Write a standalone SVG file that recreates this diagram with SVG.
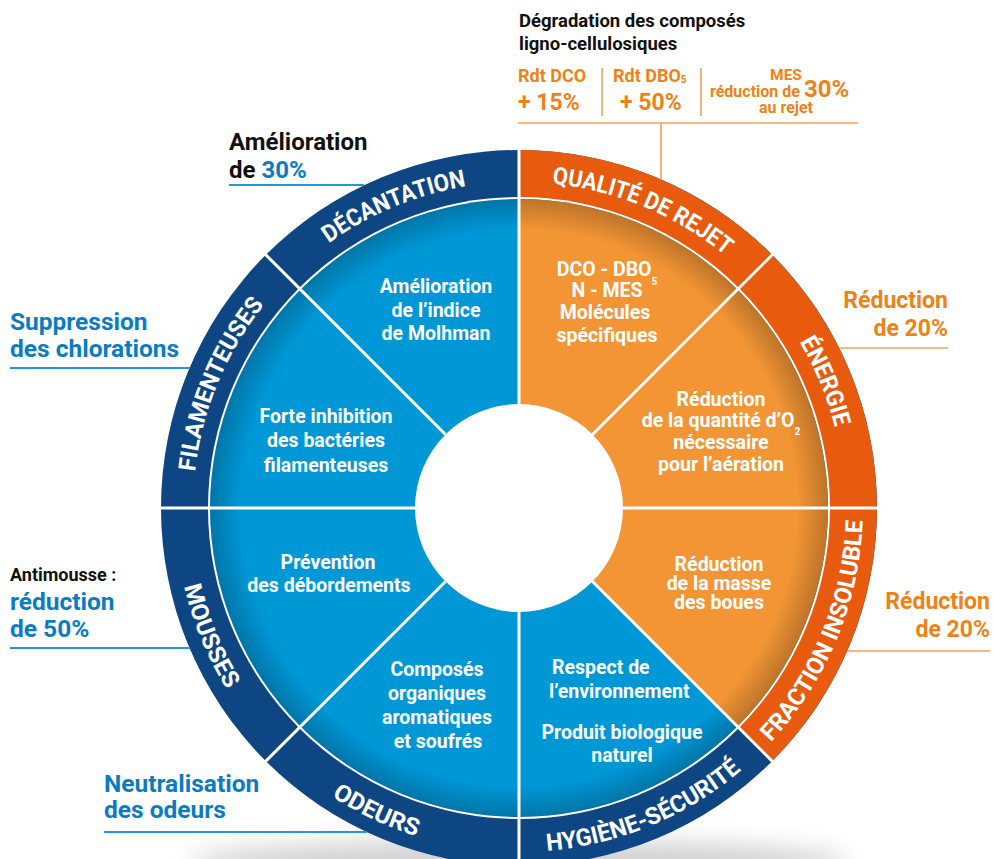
<svg xmlns="http://www.w3.org/2000/svg" width="993" height="859" viewBox="0 0 993 859">
<style>
text{font-family:Roboto,"Liberation Sans",Arial,sans-serif;font-weight:700}
.in{fill:#fff;font-size:19.5px;text-anchor:middle}
.ins{fill:#fff;font-size:19.5px;text-anchor:start}
.ring{fill:#fff;font-size:24px}
.blk{fill:#111;}
.blu{fill:#0b7cc2;font-size:24.5px}
.org{fill:#ef8217}
.bl-line{stroke:#1e9bd7;stroke-width:2;fill:none}
.or-line{stroke:#f2a35a;stroke-width:1.6;fill:none}
.sep{stroke:#fff;stroke-width:3}
</style>
<defs>
<radialGradient id="edge" cx="519" cy="508" r="309" gradientUnits="userSpaceOnUse">
<stop offset="0.9" stop-color="#000" stop-opacity="0"/>
<stop offset="1" stop-color="#000" stop-opacity="0.22"/>
</radialGradient>
<filter id="blur" x="-20%" y="-100%" width="140%" height="300%"><feGaussianBlur stdDeviation="12"/></filter>
<path id="p-dec" d="M288.5 277.5 A326 326 0 0 1 519 182"/>
<path id="p-qua" d="M519 182 A326 326 0 0 1 749.5 277.5"/>
<path id="p-ene" d="M749.5 277.5 A326 326 0 0 1 845 508"/>
<path id="p-fil" d="M193 508 A326 326 0 0 1 288.5 277.5"/>
<path id="p-fra" d="M762.2 751.2 A344 344 0 0 0 863 508"/>
<path id="p-hyg" d="M519 852 A344 344 0 0 0 762.2 751.2"/>
<path id="p-ode" d="M275.8 751.2 A344 344 0 0 0 519 852"/>
<path id="p-mou" d="M175 508 A344 344 0 0 0 275.8 751.2"/>
</defs>

<ellipse cx="519" cy="862" rx="330" ry="22" fill="#000" opacity="0.18" filter="url(#blur)"/>

<g id="wheel">
<circle cx="519" cy="508" r="358" fill="#0e4583"/>
<path d="M519 150 A358 358 0 0 1 772.1 761.1 L519 508 Z" fill="#e85a0e"/>
<circle cx="519" cy="508" r="311" fill="#fff"/>
<circle cx="519" cy="508" r="309" fill="#0097d7"/>
<path d="M519 199 A309 309 0 0 1 737.5 726.5 L519 508 Z" fill="#f39535"/>
<circle cx="519" cy="508" r="309" fill="url(#edge)"/>
<g class="sep">
<line x1="519" y1="404" x2="519" y2="146"/>
<line x1="519" y1="612" x2="519" y2="870"/>
<line x1="415" y1="508" x2="157" y2="508"/>
<line x1="623" y1="508" x2="881" y2="508"/>
<line x1="592.5" y1="434.5" x2="774.6" y2="252.4"/>
<line x1="445.5" y1="434.5" x2="263.4" y2="252.4"/>
<line x1="592.5" y1="581.5" x2="774.6" y2="763.6"/>
<line x1="445.5" y1="581.5" x2="263.4" y2="763.6"/>
</g>
<circle cx="519" cy="508" r="104" fill="#fff"/>
</g>

<g id="ring-labels">
<text class="ring"><textPath href="#p-dec" startOffset="50%" text-anchor="middle" textLength="150" lengthAdjust="spacingAndGlyphs">DÉCANTATION</textPath></text>
<text class="ring"><textPath href="#p-qua" startOffset="50%" text-anchor="middle" textLength="190" lengthAdjust="spacingAndGlyphs">QUALITÉ DE REJET</textPath></text>
<text class="ring"><textPath href="#p-ene" startOffset="50%" text-anchor="middle" textLength="93" lengthAdjust="spacingAndGlyphs">ÉNERGIE</textPath></text>
<text class="ring"><textPath href="#p-fil" startOffset="50%" text-anchor="middle" textLength="183" lengthAdjust="spacingAndGlyphs">FILAMENTEUSES</textPath></text>
<text class="ring"><textPath href="#p-fra" startOffset="50%" text-anchor="middle" textLength="245" lengthAdjust="spacingAndGlyphs">FRACTION INSOLUBLE</textPath></text>
<text class="ring"><textPath href="#p-hyg" startOffset="50%" text-anchor="middle" textLength="214" lengthAdjust="spacingAndGlyphs">HYGIÈNE-SÉCURITÉ</textPath></text>
<text class="ring"><textPath href="#p-ode" startOffset="44%" text-anchor="middle" textLength="94" lengthAdjust="spacingAndGlyphs">ODEURS</textPath></text>
<text class="ring"><textPath href="#p-mou" startOffset="50%" text-anchor="middle" textLength="112" lengthAdjust="spacingAndGlyphs">MOUSSES</textPath></text>
</g>

<g id="sector-decantation">
<text class="in" x="436" y="293">Amélioration</text>
<text class="in" x="436" y="317">de l’indice</text>
<text class="in" x="436" y="340">de Molhman</text>
</g>
<g id="sector-qualite">
<text class="in" x="607" y="276">DCO - DBO<tspan font-size="10" dy="9">5</tspan></text>
<text class="in" x="607" y="297">N - MES</text>
<text class="in" x="605" y="319">Molécules</text>
<text class="in" x="607" y="342">spécifiques</text>
</g>
<g id="sector-energie">
<text class="in" x="721" y="406">Réduction</text>
<text class="in" x="721" y="427">de la quantité d’O<tspan font-size="10" dy="8">2</tspan></text>
<text class="in" x="721" y="449">nécessaire</text>
<text class="in" x="721" y="471">pour l’aération</text>
</g>
<g id="sector-fraction">
<text class="in" x="719" y="571">Réduction</text>
<text class="in" x="719" y="590">de la masse</text>
<text class="in" x="719" y="609">des boues</text>
</g>
<g id="sector-hygiene">
<text class="ins" x="552" y="674">Respect de</text>
<text class="ins" x="549" y="698">l’environnement</text>
<text class="in" x="622" y="739">Produit biologique</text>
<text class="in" x="622" y="762">naturel</text>
</g>
<g id="sector-odeurs">
<text class="in" x="437" y="676">Composés</text>
<text class="in" x="437" y="700">organiques</text>
<text class="in" x="437" y="724">aromatiques</text>
<text class="in" x="438" y="748">et soufrés</text>
</g>
<g id="sector-mousses">
<text class="in" x="328" y="569">Prévention</text>
<text class="in" x="329" y="592">des débordements</text>
</g>
<g id="sector-filamenteuses">
<text class="in" x="326" y="423">Forte inhibition</text>
<text class="in" x="326" y="447">des bactéries</text>
<text class="in" x="326" y="472">filamenteuses</text>
</g>

<g id="connectors">
<path class="or-line" d="M518 123 H858 M661 123 V180 M602 68 V116 M701 68 V116"/>
<path class="or-line" d="M839 348 H948"/>
<path class="or-line" d="M847 651 H990"/>
<path class="bl-line" d="M229 185 H364"/>
<path class="bl-line" d="M10 368 H190"/>
<path class="bl-line" d="M10 648 H190"/>
<path class="bl-line" d="M104 832 H367"/>
</g>

<g id="note-qualite">
<text class="blk" x="519" y="27" font-size="18.5">Dégradation des composés</text>
<text class="blk" x="519" y="50" font-size="18.5">ligno-cellulosiques</text>
<text class="org" x="518" y="82" font-size="18">Rdt DCO</text>
<text class="org" x="518" y="110" font-size="23">+ 15%</text>
<text class="org" x="613" y="82" font-size="18">Rdt DBO<tspan font-size="10" dy="1">5</tspan></text>
<text class="org" x="620" y="110" font-size="23">+ 50%</text>
<text class="org" x="786" y="80" font-size="15.5" text-anchor="middle">MES</text>
<text class="org" x="710" y="97" font-size="16">réduction de <tspan font-size="24">30%</tspan></text>
<text class="org" x="786" y="113" font-size="16" text-anchor="middle">au rejet</text>
</g>
<g id="note-energie">
<text class="org" x="948" y="308" font-size="23" text-anchor="end">Réduction</text>
<text class="org" x="948" y="336" font-size="23" text-anchor="end">de 20%</text>
</g>
<g id="note-fraction">
<text class="org" x="990" y="609" font-size="23" text-anchor="end">Réduction</text>
<text class="org" x="990" y="637" font-size="23" text-anchor="end">de 20%</text>
</g>
<g id="note-decantation">
<text class="blk" x="229" y="150" font-size="24">Amélioration</text>
<text class="blk" x="229" y="178" font-size="24">de <tspan fill="#0b7cc2">30%</tspan></text>
</g>
<g id="note-filamenteuses">
<text class="blu" x="10" y="330">Suppression</text>
<text class="blu" x="10" y="357">des chlorations</text>
</g>
<g id="note-mousses">
<text class="blk" x="10" y="581" font-size="18">Antimousse :</text>
<text class="blu" x="10" y="610">réduction</text>
<text class="blu" x="10" y="637">de 50%</text>
</g>
<g id="note-odeurs">
<text class="blu" x="104" y="792">Neutralisation</text>
<text class="blu" x="104" y="818">des odeurs</text>
</g>
</svg>
